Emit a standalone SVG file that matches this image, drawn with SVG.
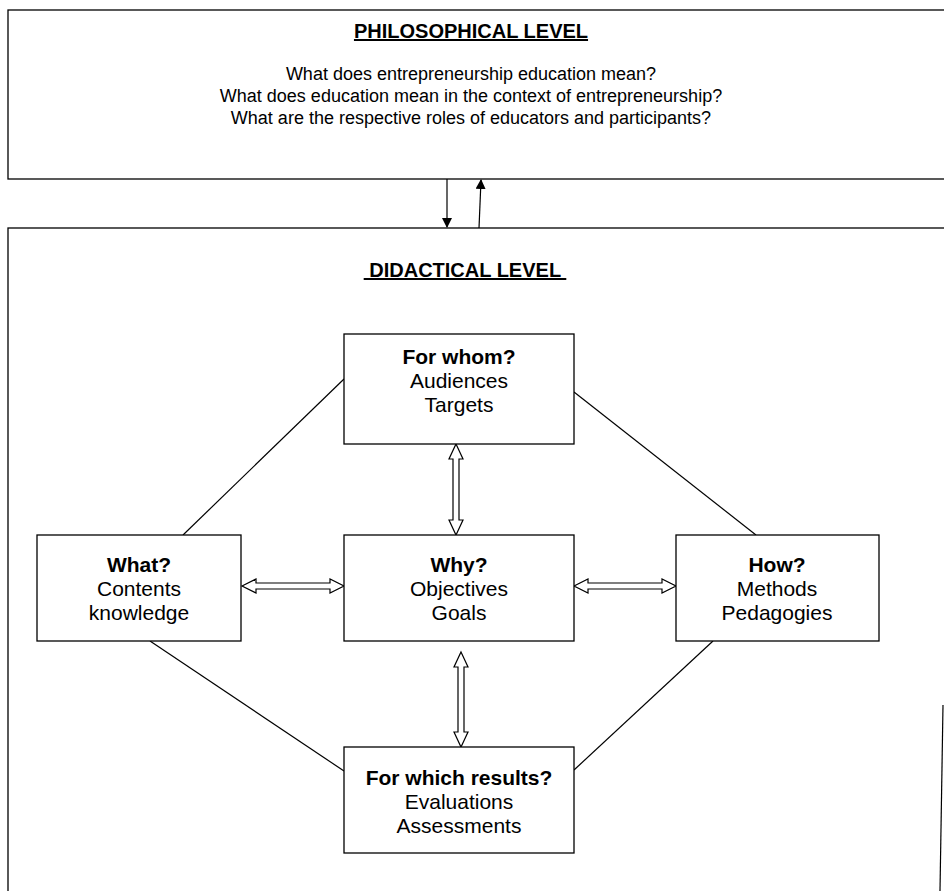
<svg xmlns="http://www.w3.org/2000/svg" width="944" height="891" viewBox="0 0 944 891">
<style>
.box{fill:#fff;stroke:#000;stroke-width:1.3}
.t{font-family:"Liberation Sans",Arial,sans-serif;font-size:21px;fill:#000;text-anchor:middle}
.p{font-family:"Liberation Sans",Arial,sans-serif;font-size:18px;fill:#000;text-anchor:middle}
.b{font-weight:bold}
.h{font-family:"Liberation Sans",Arial,sans-serif;font-size:20px;font-weight:bold;fill:#000;text-anchor:middle;text-decoration:underline}
.ln{stroke:#000;stroke-width:1.2;fill:none}
.da{fill:#fff;stroke:#000;stroke-width:1.2}
</style>
<defs>
<marker id="ah" markerWidth="10" markerHeight="10" refX="9" refY="5" orient="auto" markerUnits="userSpaceOnUse"><path d="M0,0 L10,5 L0,10 Z" fill="#000"/></marker>
</defs>
<g id="philosophical">
<rect class="box" x="8" y="10" width="960" height="169"/>
<text class="h" x="471" y="38">PHILOSOPHICAL LEVEL</text>
<text class="p" x="471" y="80">What does entrepreneurship education mean?</text>
<text class="p" x="471" y="102">What does education mean in the context of entrepreneurship?</text>
<text class="p" x="471" y="124">What are the respective roles of educators and participants?</text>
</g>
<g id="didactical">
<rect class="box" x="8" y="228" width="960" height="700"/>
<line class="ln" x1="943" y1="705" x2="940" y2="891"/>
<text class="h" x="465" y="277" xml:space="preserve"> DIDACTICAL LEVEL </text>
</g>
<g id="connectors">
<line class="ln" x1="447" y1="179" x2="447" y2="227" marker-end="url(#ah)"/>
<line class="ln" x1="479" y1="228" x2="481" y2="180" marker-end="url(#ah)"/>
<line class="ln" x1="344" y1="379" x2="183" y2="535"/>
<line class="ln" x1="574" y1="392" x2="756" y2="535"/>
<line class="ln" x1="150" y1="641" x2="344" y2="771"/>
<line class="ln" x1="713" y1="641" x2="574" y2="770"/>
<path class="da" d="M242,586 L256,579 L256,583 L330,583 L330,579 L344,586 L330,593 L330,589 L256,589 L256,593 Z"/>
<path class="da" d="M574,586 L588,579 L588,583 L662,583 L662,579 L676,586 L662,593 L662,589 L588,589 L588,593 Z"/>
<path class="da" d="M456,444 L463,459 L459,459 L459,520 L463,520 L456,535 L449,520 L453,520 L453,459 L449,459 Z"/>
<path class="da" d="M461,652 L468,667 L464,667 L464,732 L468,732 L461,747 L454,732 L458,732 L458,667 L454,667 Z"/>
</g>
<g id="forwhom">
<rect class="box" x="344" y="334" width="230" height="110"/>
<text class="t b" x="459" y="364">For whom?</text>
<text class="t" x="459" y="388">Audiences</text>
<text class="t" x="459" y="412">Targets</text>
</g>
<g id="what">
<rect class="box" x="37" y="535" width="204" height="106"/>
<text class="t b" x="139" y="572">What?</text>
<text class="t" x="139" y="596">Contents</text>
<text class="t" x="139" y="620">knowledge</text>
</g>
<g id="why">
<rect class="box" x="344" y="535" width="230" height="106"/>
<text class="t b" x="459" y="572">Why?</text>
<text class="t" x="459" y="596">Objectives</text>
<text class="t" x="459" y="620">Goals</text>
</g>
<g id="how">
<rect class="box" x="676" y="535" width="203" height="106"/>
<text class="t b" x="777" y="572">How?</text>
<text class="t" x="777" y="596">Methods</text>
<text class="t" x="777" y="620">Pedagogies</text>
</g>
<g id="results">
<rect class="box" x="344" y="747" width="230" height="106"/>
<text class="t b" x="459" y="785">For which results?</text>
<text class="t" x="459" y="809">Evaluations</text>
<text class="t" x="459" y="833">Assessments</text>
</g>
</svg>
